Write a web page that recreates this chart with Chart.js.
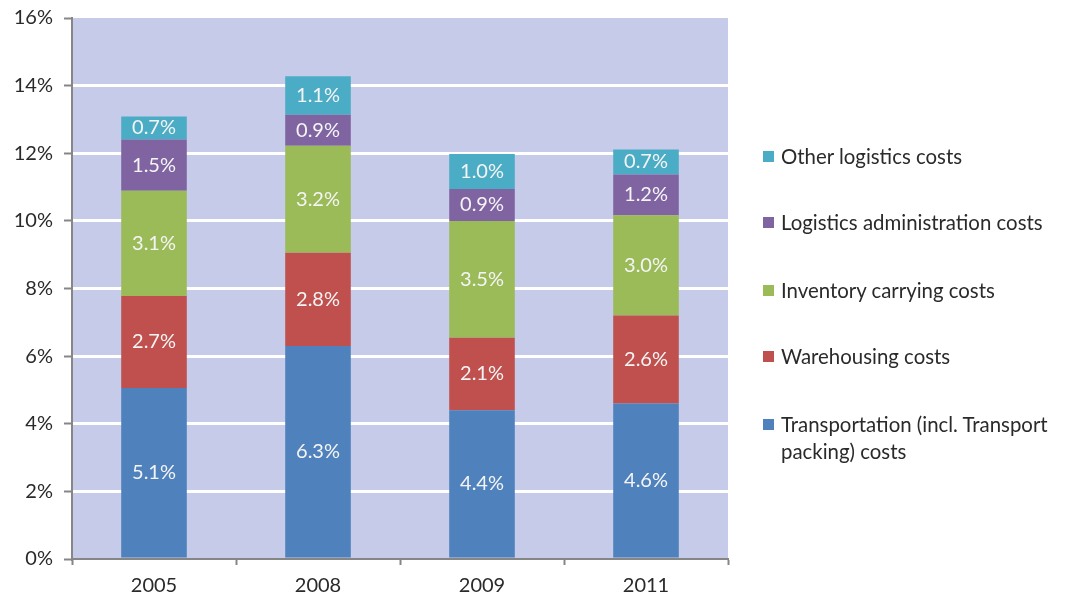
<!DOCTYPE html>
<html><head><meta charset="utf-8">
<script src="https://cdn.jsdelivr.net/npm/chart.js@4"></script>
<style>
html,body{margin:0;padding:0;background:#fff;}
#wrap{position:relative;width:1065px;height:597px;overflow:hidden;}
#c{position:absolute;left:0;top:0;}
.leg{position:absolute;left:763px;font:20.4px Lato, sans-serif;color:#2a2a2a;line-height:27px;white-space:nowrap;}
.leg .m{position:absolute;left:0;top:8px;width:11px;height:11px;}
.leg .t{position:absolute;left:18px;top:0;}
</style></head>
<body><div id="wrap"><canvas id="c" width="1065" height="597"></canvas><div id="legend"></div></div>
<script>
const categories = ['2005', '2008', '2009', '2011'];
const transportation = [5.06, 6.30, 4.40, 4.60];
const warehousing = [2.72, 2.76, 2.14, 2.60];
const inventory = [3.11, 3.16, 3.46, 2.97];
const administration = [1.52, 0.92, 0.94, 1.20];
const otherCosts = [0.68, 1.14, 1.04, 0.74];
const seriesNames = ['Transportation (incl. Transport\npacking) costs', 'Warehousing costs', 'Inventory carrying costs', 'Logistics administration costs', 'Other logistics costs'];
const seriesColors = ['#4f81bd', '#c0504d', '#9bbb59', '#8064a2', '#4bacc6'];
const seriesValues = [transportation, warehousing, inventory, administration, otherCosts];
const yMin = 0, yMax = 16, yStep = 2;

const datasets = seriesValues.map((vals, i) => ({
  label: seriesNames[i],
  data: vals,
  backgroundColor: seriesColors[i],
  borderWidth: 0,
  categoryPercentage: 1,
  barPercentage: 0.4
}));

const bgPlugin = {
  id: 'bg',
  beforeDraw(chart) {
    const {ctx, chartArea: a} = chart;
    ctx.save();
    ctx.fillStyle = '#c5cbe8';
    ctx.fillRect(a.left, a.top, a.right - a.left, a.bottom - a.top);
    ctx.restore();
  }
};
const labelPlugin = {
  id: 'segLabels',
  afterDatasetsDraw(chart) {
    const ctx = chart.ctx;
    ctx.save();
    ctx.font = '20px Lato, sans-serif';
    ctx.fillStyle = '#f4f4f4';
    ctx.textAlign = 'center';
    ctx.textBaseline = 'middle';
    chart.data.datasets.forEach((ds, di) => {
      const meta = chart.getDatasetMeta(di);
      meta.data.forEach((el, i) => {
        const p = el.getProps(['x', 'y', 'base'], true);
        ctx.fillText(ds.data[i].toFixed(1) + '%', p.x, (p.y + p.base) / 2);
      });
    });
    ctx.restore();
  }
};

const axisGray = '#868686';
new Chart(document.getElementById('c'), {
  type: 'bar',
  data: { labels: categories, datasets },
  options: {
    responsive: false,
    animation: false,
    layout: { padding: { top: 18, right: 337, left: 0, bottom: 0 } },
    plugins: { legend: { display: false }, tooltip: { enabled: false } },
    scales: {
      x: {
        stacked: true,
        grid: { drawOnChartArea: false, drawTicks: true, tickLength: 6, tickColor: axisGray, tickWidth: 2, offset: true },
        border: { color: axisGray, width: 2 },
        ticks: { font: { family: 'Lato, sans-serif', size: 20 }, color: '#2a2a2a', padding: 9 },
        afterFit(s) { s.height = 38; s.paddingLeft = 0; s.paddingRight = 0; }
      },
      y: {
        stacked: true,
        min: yMin, max: yMax,
        grid: {
          color: c => (c.tick && (c.tick.value === yMin || c.tick.value === yMax)) ? 'rgba(0,0,0,0)' : '#ffffff',
          lineWidth: 3, tickLength: 8, tickColor: axisGray, tickWidth: 2
        },
        border: { color: axisGray, width: 2 },
        ticks: { stepSize: yStep, callback: v => v + '%', font: { family: 'Lato, sans-serif', size: 20 }, color: '#2a2a2a', padding: 11 },
        afterFit(s) { s.width = 72; s.paddingTop = 0; s.paddingBottom = 0; }
      }
    }
  },
  plugins: [bgPlugin, labelPlugin]
});

// legend (reverse order, like the reference)
const legendTops = [143, 209, 277, 343, 411];
const legend = document.getElementById('legend');
for (let k = 0; k < seriesNames.length; k++) {
  const i = seriesNames.length - 1 - k;
  const d = document.createElement('div');
  d.className = 'leg';
  d.style.top = legendTops[k] + 'px';
  const m = document.createElement('span'); m.className = 'm'; m.style.background = seriesColors[i];
  const t = document.createElement('span'); t.className = 't';
  t.innerHTML = seriesNames[i].split('\n').join('<br>');
  d.appendChild(m); d.appendChild(t);
  legend.appendChild(d);
}
</script>
</body></html>
